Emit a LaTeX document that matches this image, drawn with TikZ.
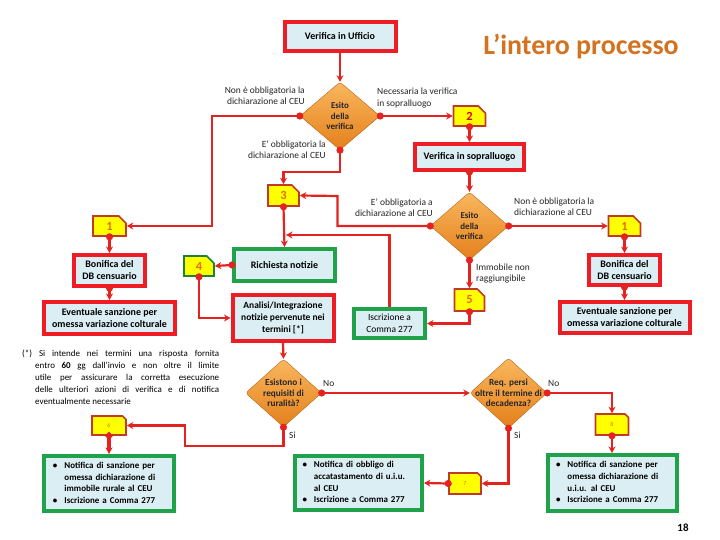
\documentclass[tikz,border=0pt]{standalone}
\usepackage{fontspec}
\setmainfont{Carlito}
\usetikzlibrary{arrows.meta,shapes.geometric,shapes.misc}
\definecolor{linered}{HTML}{E42320}
\definecolor{boxred}{HTML}{EE1C25}
\definecolor{boxgreen}{HTML}{1FA24A}
\definecolor{fillblue}{HTML}{DBEEF4}
\definecolor{numyellow}{HTML}{FFFF00}
\definecolor{numborder}{HTML}{C0392B}
\definecolor{numtext}{HTML}{E46C0A}
\definecolor{titleorange}{HTML}{D4731F}
\definecolor{dtop}{HTML}{F9B75E}
\definecolor{dbot}{HTML}{E4801C}
\begin{document}
\begin{tikzpicture}[x=1bp,y=-1bp,
  redbox/.style={draw=boxred, line width=4bp, fill=fillblue, align=center,
    font=\fontsize{10}{12}\selectfont\bfseries, inner sep=1bp},
  greenbox/.style={redbox, draw=boxgreen},
  listbox/.style={greenbox, text width=112bp, align=left, font=\fontsize{9}{11.7}\selectfont\bfseries},
  numbox/.style={chamfered rectangle, chamfered rectangle corners=north east,
    chamfered rectangle xsep=5bp, draw=numborder, line width=1.6bp, fill=numyellow,
    inner sep=0, text=numtext, font=\fontsize{12.5}{12.5}\selectfont\bfseries},
  smallnum/.style={numbox, font=\fontsize{6}{6}\selectfont},
  decision/.style={diamond, inner sep=0, rounded corners=3bp, draw=dbot!80!black, line width=0.4bp,
    top color=dtop, bottom color=dbot},
  dtext/.style={align=center, font=\fontsize{9}{10.5}\selectfont\bfseries, text=black!85},
  lbl/.style={font=\fontsize{9.5}{11.5}\selectfont, text=black!85, inner sep=0},
  conn/.style={draw=linered, line width=2.2bp, -{Stealth[length=6.5bp,width=7bp]}},
  dconn/.style={conn, {Circle[length=7bp,sep=-3.5bp]}-{Stealth[length=6.5bp,width=7bp]}}
]
\useasboundingbox[fill=white] (0,0) rectangle (720,540);

% title and page number
\node[text=titleorange, font=\fontsize{28}{28}\selectfont\bfseries] (title) at (581,47) {L’intero processo};
\node[font=\fontsize{11}{11}\selectfont\bfseries] (page) at (683,528) {18};

% boxes
\node[redbox, minimum width=111bp, minimum height=29bp] (vu) at (340,36.5) {Verifica in Ufficio};
\node[redbox, minimum width=109bp, minimum height=26bp] (vs) at (469.5,157) {Verifica in sopralluogo};
\node[redbox, minimum width=71bp, minimum height=31bp] (b1l) at (109.5,270.5) {Bonifica del\\DB censuario};
\node[redbox, minimum width=130bp, minimum height=32bp] (e1l) at (109.5,318) {Eventuale sanzione per\\omessa variazione colturale};
\node[redbox, minimum width=71bp, minimum height=30bp] (b1r) at (624.5,270) {Bonifica del\\DB censuario};
\node[redbox, minimum width=130bp, minimum height=31bp] (e1r) at (624.5,317.5) {Eventuale sanzione per\\omessa variazione colturale};
\node[greenbox, minimum width=101bp, minimum height=32bp] (rn) at (284.5,265) {Richiesta notizie};
\node[redbox, minimum width=101bp, minimum height=46bp, font=\fontsize{9.5}{12.3}\selectfont\bfseries] (an) at (283,318) {Analisi/Integrazione\\notizie pervenute nei\\termini [*]};
\node[greenbox, minimum width=71bp, minimum height=29bp, font=\fontsize{9.5}{12}\selectfont] (is) at (389.5,323.5) {Iscrizione a\\Comma 277};
\node[listbox, minimum width=129bp, minimum height=55bp] (g6) at (109,483.5)
 {\begin{tabular}{@{}l@{\hspace{7bp}}l@{}}\textbullet & Notifica di sanzione per\\ & omessa dichiarazione di\\ & immobile rurale al CEU\\ \textbullet & Iscrizione a Comma 277\end{tabular}};
\node[listbox, minimum width=127bp, minimum height=54bp] (g7) at (358.5,483)
 {\begin{tabular}{@{}l@{\hspace{7bp}}l@{}}\textbullet & Notifica di obbligo di\\ & accatastamento di u.i.u.\\ & al CEU\\ \textbullet & Iscrizione a Comma 277\end{tabular}};
\node[listbox, minimum width=129bp, minimum height=56bp] (g8) at (612,483)
 {\begin{tabular}{@{}l@{\hspace{7bp}}l@{}}\textbullet & Notifica di sanzione per\\ & omessa dichiarazione di\\ & u.i.u. al CEU\\ \textbullet & Iscrizione a Comma 277\end{tabular}};

% number boxes
\node[numbox, minimum width=32bp, minimum height=20bp, text=red!85!black] (n2) at (469.5,116) {2};
\node[numbox, minimum width=32bp, minimum height=20bp] (n1r) at (624.5,226) {1};
\node[numbox, minimum width=33bp, minimum height=20bp] (n1l) at (109.5,226) {1};
\node[numbox, minimum width=31bp, minimum height=21bp] (n3) at (283.5,195.5) {3};
\node[numbox, minimum width=30bp, minimum height=20bp, draw=boxgreen!80!black] (n4) at (199,266) {4};
\node[numbox, minimum width=30bp, minimum height=22bp] (n5) at (469.5,300) {5};
\node[smallnum, minimum width=34bp, minimum height=19bp] (n6) at (109,425.5) {6};
\node[smallnum, minimum width=32bp, minimum height=21bp] (n7) at (465,483.5) {7};
\node[smallnum, minimum width=33bp, minimum height=21bp] (n8) at (612,424.5) {8};

% decisions
\node[decision, minimum width=80bp, minimum height=68bp] (d1) at (340,116) {};
\node[dtext] (d1t) at (d1) {Esito\\della\\verifica};
\node[decision, minimum width=78bp, minimum height=68bp] (d2) at (469.5,226) {};
\node[dtext] (d2t) at (d2) {Esito\\della\\verifica};
\node[decision, minimum width=76bp, minimum height=68bp] (d3) at (283.5,393) {};
\node[dtext, font=\fontsize{9.3}{10.5}\selectfont\bfseries] (d3t) at (d3) {Esistono i\\requisiti di\\ruralità?};
\node[decision, minimum width=77bp, minimum height=70bp] (d4) at (508.5,393) {};
\node[dtext, font=\fontsize{9.3}{10.5}\selectfont\bfseries] (d4t) at (d4) {Req. persi\\oltre il termine di\\decadenza?};

% edge labels
\node[lbl, anchor=east, align=right] (l1) at (305,96) {Non è obbligatoria la\\dichiarazione al CEU};
\node[lbl, anchor=west, align=left] (l2) at (377,98) {Necessaria la verifica\\in sopralluogo};
\node[lbl, anchor=east, align=right] (l3) at (326,149.5) {E’ obbligatoria la\\dichiarazione al CEU};
\node[lbl, anchor=east, align=right] (l4) at (433,207.5) {E’ obbligatoria a\\dichiarazione al CEU};
\node[lbl, anchor=west, align=left] (l5) at (514,207) {Non è obbligatoria la\\dichiarazione al CEU};
\node[lbl, anchor=west, align=left] (l6) at (476,273.5) {Immobile non\\raggiungibile};
\node[lbl, anchor=west] (no1) at (323,383) {No};
\node[lbl, anchor=west] (no2) at (548,383) {No};
\node[lbl, anchor=west] (si1) at (289,435) {Si};
\node[lbl, anchor=west] (si2) at (514,435) {Si};

% note
\node[anchor=north west, inner sep=0, text width=197bp, align=justify,
  font=\fontsize{9}{12}\selectfont] (note) at (22,350)
  {\hangindent=13bp\hangafter=1 (*) Si intende nei termini una risposta fornita\linebreak
   entro \textbf{60} gg dall’invio e non oltre il limite\linebreak
   utile per assicurare la corretta esecuzione\linebreak
   delle ulteriori azioni di verifica e di notifica\linebreak
   eventualmente necessarie\par};

% helper coordinates
\coordinate (c1) at (212,226);
\coordinate (c2) at (340,172);
\coordinate (c3) at (337.5,196);
\coordinate (c4) at (286,235);
\coordinate (c6) at (185,446);

% connectors
\draw[conn] (vu.south) -- (d1.north);
\draw[dconn] (d1.west) -| (c1) -- (n1l.east);
\draw[dconn] (d1.east) -- (n2.west);
\draw[dconn] (n2.south) -- (vs.north);
\draw[dconn] (vs.south) -- (d2.north);
\draw[dconn] (d2.east) -- (n1r.west);
\draw[dconn] (n1r.south) -- (b1r.north);
\draw[dconn] (b1r.south) -- (e1r.north);
\draw[dconn] (n1l.south) -- (b1l.north);
\draw[dconn] (b1l.south) -- (e1l.north);
\draw[dconn] (d1.south) -- (c2) -| (n3.north);
\draw[dconn] (d2.west) -| (c3) -- (n3.east);
\draw[dconn] (n3.south) -- (rn.north);
\draw[conn] (is.north) |- (c4);
\draw[dconn] (rn.west) -- (n4.east);
\draw[dconn] (n4.south) |- (an.west);
\draw[dconn] (d2.south) -- (n5.north);
\draw[dconn] (n5.south) |- (is.east);
\draw[conn] (an.south) -- (d3.north);
\draw[dconn] (d3.east) -- (d4.west);
\draw[dconn] (d3.south) |- (c6) |- (n6.east);
\draw[dconn, line width=3.2bp] (n6.south) -- (g6.north);
\draw[dconn] (d4.east) -| (n8.north);
\draw[dconn] (n8.south) -- (g8.north);
\draw[dconn] (d4.south) |- (n7.east);
\draw[dconn] (n7.west) -- (g7.east);
\end{tikzpicture}
\end{document}
